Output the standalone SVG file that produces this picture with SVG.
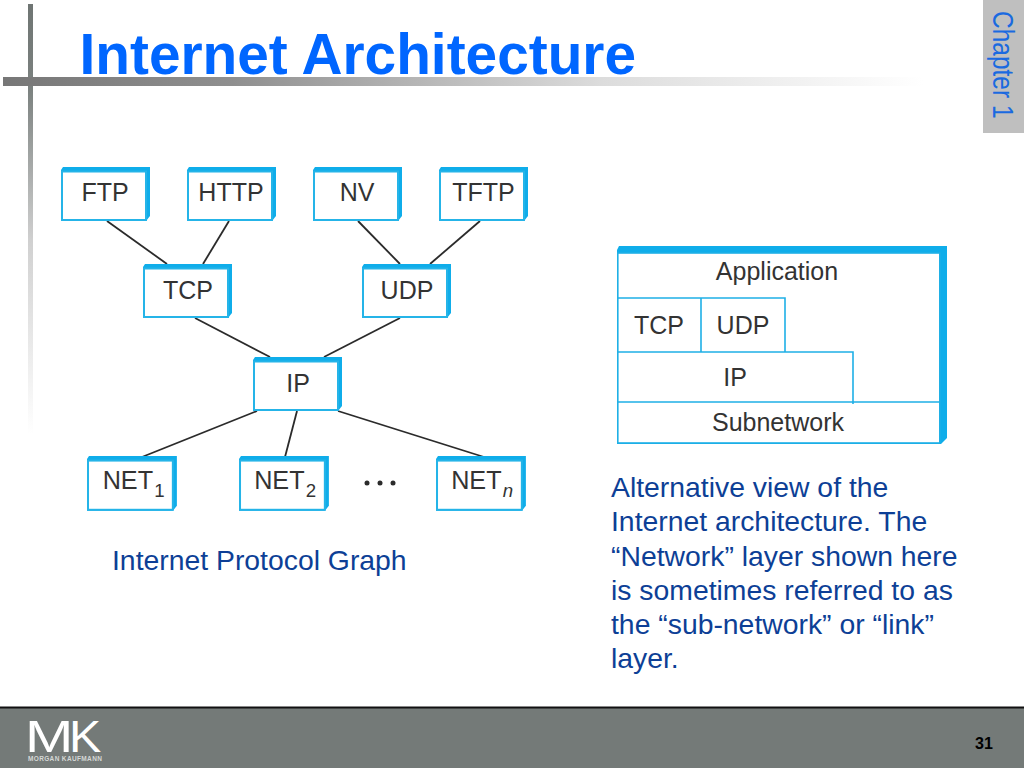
<svg xmlns="http://www.w3.org/2000/svg" xmlns:xlink="http://www.w3.org/1999/xlink" width="1024" height="768" viewBox="0 0 1024 768">
<style>
text{font-family:"Liberation Sans",Arial,sans-serif}
.lab{font-size:25px;fill:#333;text-anchor:middle}
.sub{font-size:18.5px;fill:#333}
.body{font-size:28.35px;fill:#0d3f96}
.cn{stroke:#2b2b2b;stroke-width:1.8;fill:none}
.ln{stroke:#1fb0e6;stroke-width:1.6;fill:none}
.face{fill:#fff;stroke:#25b4e8;stroke-width:2}
.band{fill:#0fadea}
</style>
<defs>
<linearGradient id="gv" x1="0" y1="0" x2="0" y2="1"><stop offset="0" stop-color="#6f7573"/><stop offset="0.2" stop-color="#7c8280"/><stop offset="0.55" stop-color="#d0d0d0"/><stop offset="1" stop-color="#fff"/></linearGradient>
<linearGradient id="gh" x1="0" y1="0" x2="1" y2="0"><stop offset="0" stop-color="#777"/><stop offset="0.25" stop-color="#8f8f8f"/><stop offset="0.65" stop-color="#dcdcdc"/><stop offset="1" stop-color="#fff"/></linearGradient>
<g id="box"><polygon class="band" points="2,0 89,0 89,49 85,54 0,54 0,3"/><rect class="face" x="1" y="4.5" width="84" height="48.5"/></g>
</defs>
<rect width="1024" height="768" fill="#fff"/>
<rect x="28" y="4" width="5" height="430" fill="url(#gv)"/>
<rect x="3" y="77" width="920" height="9" fill="url(#gh)"/>
<text x="79.5" y="74" font-size="56.8" font-weight="700" fill="#0066ff">Internet Architecture</text>
<rect x="983" y="0" width="41" height="133" fill="#bfbfbf"/>
<text transform="translate(992.5,11) rotate(90) scale(1,1.18)" font-size="24.5" fill="#1a6ae0">Chapter 1</text>
<g id="connectors">
<line class="cn" x1="107" y1="221" x2="167" y2="264"/>
<line class="cn" x1="229" y1="221" x2="203" y2="264"/>
<line class="cn" x1="358" y1="221" x2="400" y2="264"/>
<line class="cn" x1="480" y1="221" x2="430" y2="264"/>
<line class="cn" x1="195" y1="318" x2="270" y2="357"/>
<line class="cn" x1="400" y1="318" x2="324" y2="357"/>
<line class="cn" x1="257" y1="411" x2="142" y2="457"/>
<line class="cn" x1="297" y1="411" x2="285" y2="457"/>
<line class="cn" x1="338" y1="411" x2="484" y2="457"/>
</g>
<g id="ftp" transform="translate(61,167)"><use xlink:href="#box" href="#box"/><text class="lab" x="44" y="34">FTP</text></g>
<g id="http" transform="translate(187,167)"><use xlink:href="#box" href="#box"/><text class="lab" x="44" y="34">HTTP</text></g>
<g id="nv" transform="translate(313,167)"><use xlink:href="#box" href="#box"/><text class="lab" x="44" y="34">NV</text></g>
<g id="tftp" transform="translate(439,167)"><use xlink:href="#box" href="#box"/><text class="lab" x="44.5" y="34">TFTP</text></g>
<g id="tcp" transform="translate(143,264)"><use xlink:href="#box" href="#box"/><text class="lab" x="45" y="34.5">TCP</text></g>
<g id="udp" transform="translate(362,264)"><use xlink:href="#box" href="#box"/><text class="lab" x="45" y="34.5">UDP</text></g>
<g id="ip" transform="translate(253,357)"><use xlink:href="#box" href="#box"/><text class="lab" x="45" y="35">IP</text></g>
<g id="net1" transform="translate(87,456) scale(1.01,1.015)"><use xlink:href="#box" href="#box"/><text class="lab" x="15.5" y="33" style="text-anchor:start">NET<tspan class="sub" dx="1" dy="7">1</tspan></text></g>
<g id="net2" transform="translate(239,456) scale(1.01,1.015)"><use xlink:href="#box" href="#box"/><text class="lab" x="15" y="33" style="text-anchor:start">NET<tspan class="sub" dx="1" dy="7">2</tspan></text></g>
<g id="netn" transform="translate(436,456) scale(1.01,1.015)"><use xlink:href="#box" href="#box"/><text class="lab" x="15" y="33" style="text-anchor:start">NET<tspan class="sub" dx="1" dy="7" font-style="italic">n</tspan></text></g>
<g id="dots" fill="#2b2b2b"><circle cx="367" cy="483" r="2.5"/><circle cx="380" cy="483" r="2.5"/><circle cx="393" cy="483" r="2.5"/></g>
<text x="112" y="570" class="body">Internet Protocol Graph</text>
<g id="stack">
<polygon class="band" points="619,246 947,246 947,438 941,444 617,444 617,250"/>
<rect x="617.8" y="253" width="322" height="190" fill="#fff" stroke="#1fb0e6" stroke-width="1.6"/>
<path class="ln" d="M618 298H785V352M701 298V352M618 352H853V404M618 402H940"/>
<text class="lab" x="777" y="280">Application</text>
<text class="lab" x="659" y="334">TCP</text>
<text class="lab" x="743" y="334">UDP</text>
<text class="lab" x="735" y="386">IP</text>
<text class="lab" x="778" y="431">Subnetwork</text>
</g>
<g class="body">
<text x="611" y="497">Alternative view of the</text>
<text x="611" y="531">Internet architecture. The</text>
<text x="611" y="566">“Network” layer shown here</text>
<text x="611" y="600">is sometimes referred to as</text>
<text x="611" y="634">the “sub-network” or “link”</text>
<text x="611" y="668">layer.</text>
</g>
<rect x="0" y="708" width="1024" height="60" fill="#747a78"/>
<rect x="0" y="706.5" width="1024" height="2" fill="#111"/>
<g id="logo" fill="#fff">
<text transform="translate(25,751.5) scale(1.32,1)" font-size="44">M</text>
<text transform="translate(69,751.5) scale(1.1,1)" font-size="44">K</text>
<text x="28" y="761" font-size="6.5" font-weight="700" letter-spacing="0.35" fill="#d5d8d6">MORGAN KAUFMANN</text>
</g>
<text x="975" y="749" font-size="16" font-weight="700" fill="#000">31</text>
</svg>
